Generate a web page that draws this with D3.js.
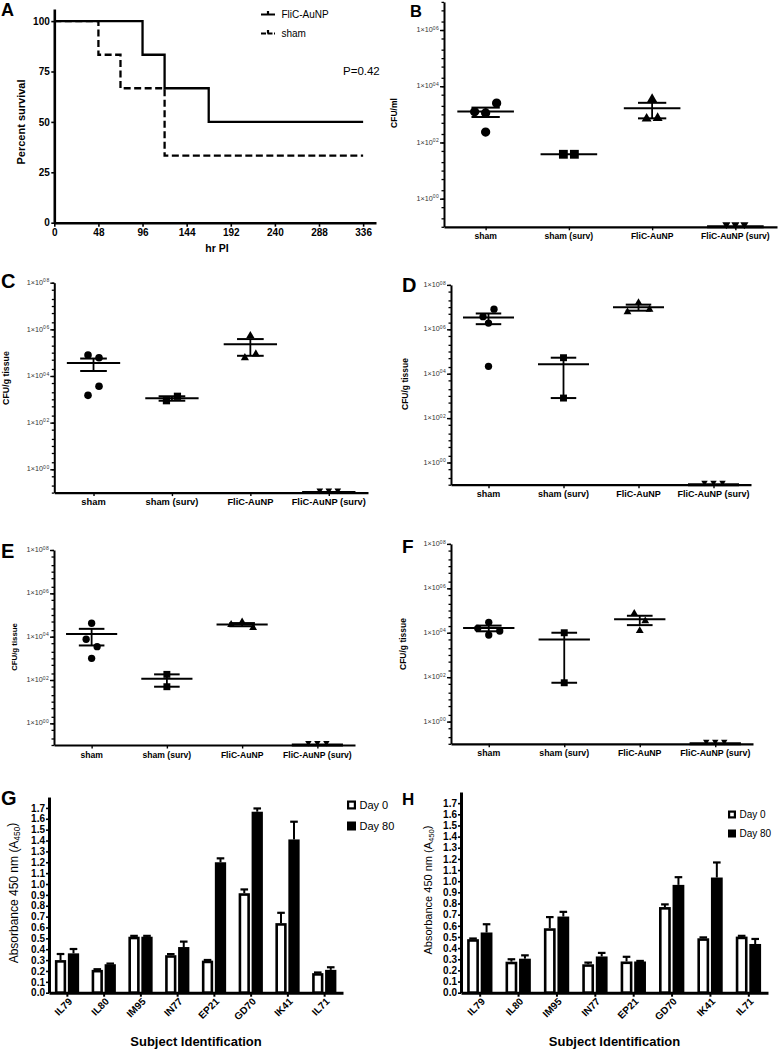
<!DOCTYPE html>
<html><head><meta charset="utf-8">
<script src="https://cdn.jsdelivr.net/npm/d3@7"></script>
<style>
body{margin:0;background:#fff}
svg{display:block}
text{font-family:"Liberation Sans",Arial,sans-serif;fill:#000}
</style>
</head><body>
<svg id="c" width="782" height="1050"></svg>
<script>
// ---------------- DATA ----------------
// Panel A: Kaplan-Meier survival
const flicTimes = [0, 96, 120, 168, 336];
const flicSurvival = [100, 83.3, 66.7, 50, 50];
const shamTimes = [0, 48, 72, 120, 336];
const shamSurvival = [100, 83.3, 66.7, 33.3, 33.3];
const survivalXTicks = [0, 48, 96, 144, 192, 240, 288, 336];
const survivalYTicks = [0, 25, 50, 75, 100];
const survivalSeries = ["FliC-AuNP", "sham"];
const pValueLabel = "P=0.42";

// Panels B-F: CFU per group (0 = below detection)
const cfuGroups = ["sham", "sham (surv)", "FliC-AuNP", "FliC-AuNP (surv)"];
const cfuB = [[1230, 1120, 2500, 234], [38, 38], [3500, 700, 740], [0, 0, 0]];
const cfuC = [[79400, 60300, 1480, 3630], [870, 1350], [537000, 60300, 87000], [0, 0, 0]];
const cfuD = [[3.7e6, 8.1e6, 1.9e6, 21400], [52500, 800], [6.0e6, 1.58e7, 7.9e6], [0, 0, 0]];
const cfuE = [[41700, 7600, 3470, 1000], [182, 49], [36000, 47000, 26000], [0, 0, 0]];
const cfuF = [[15800, 29500, 12000, 7900], [10000, 56], [74000, 34000, 12300], [0, 0, 0]];
const logLabelExps = [0, 2, 4, 6, 8];

// Panels G-H: absorbance
const subjects = ["IL79", "IL80", "IM95", "IN77", "EP21", "GD70", "IK41", "IL71"];
const dayLabels = ["Day 0", "Day 80"];
const gDay0 = [0.30, 0.21, 0.515, 0.345, 0.295, 0.915, 0.64, 0.18];
const gDay0Err = [0.056, 0.006, 0.008, 0.01, 0.006, 0.035, 0.095, 0.006];
const gDay80 = [0.362, 0.262, 0.515, 0.42, 1.20, 1.665, 1.41, 0.21];
const gDay80Err = [0.04, 0.006, 0.008, 0.05, 0.036, 0.03, 0.163, 0.024];
const hDay0 = [0.48, 0.278, 0.578, 0.255, 0.28, 0.768, 0.488, 0.503];
const hDay0Err = [0.006, 0.022, 0.10, 0.015, 0.042, 0.024, 0.008, 0.007];
const hDay80 = [0.54, 0.305, 0.683, 0.325, 0.28, 0.967, 1.033, 0.437];
const hDay80Err = [0.074, 0.03, 0.042, 0.032, 0.005, 0.069, 0.135, 0.045];
const absTicks = d3.range(18).map(i => i / 10);

// ---------------- DRAWING ----------------
const svg = d3.select("#c");
const FONT = '"Liberation Sans", Arial, sans-serif';

function cleanAxis(g, domainW, tickW) {
  g.attr("font-family", FONT).attr("font-size", null);
  g.select(".domain").attr("stroke", "#000").attr("stroke-width", domainW);
  g.selectAll(".tick line").attr("stroke", "#000").attr("stroke-width", tickW);
}

function panelLetter(txt, x, y, fam, size, weight) {
  svg.append("text").attr("x", x).attr("y", y).attr("font-family", fam)
    .attr("font-size", size).attr("font-weight", weight).text(txt);
}

// ---- Panel A ----
(function () {
  const x = d3.scaleLinear().domain([0, 350]).range([54.3, 376]);
  const y = d3.scaleLinear().domain([0, 106]).range([222.7, 9]);
  const line = d3.line().x(d => x(d[0])).y(d => y(d[1])).curve(d3.curveStepAfter);
  svg.append("path").datum(d3.zip(flicTimes, flicSurvival)).attr("d", line)
    .attr("fill", "none").attr("stroke", "#000").attr("stroke-width", 2.3);
  svg.append("path").datum(d3.zip(shamTimes, shamSurvival)).attr("d", line)
    .attr("fill", "none").attr("stroke", "#000").attr("stroke-width", 2.3)
    .attr("stroke-dasharray", "7,3.5");

  const gx = svg.append("g").attr("transform", "translate(0,222.7)")
    .call(d3.axisBottom(x).tickValues(survivalXTicks).tickSize(4).tickSizeOuter(0).tickPadding(2));
  cleanAxis(gx, 2.6, 1.6);
  gx.selectAll("text").attr("font-size", 10).attr("font-weight", "bold");
  const gy = svg.append("g").attr("transform", "translate(54.3,0)")
    .call(d3.axisLeft(y).tickValues(survivalYTicks).tickSize(3).tickSizeOuter(0).tickPadding(1.5));
  cleanAxis(gy, 2.6, 1.6);
  gy.selectAll("text").attr("font-size", 10).attr("font-weight", "bold");

  svg.append("text").attr("x", 217).attr("y", 252).attr("text-anchor", "middle")
    .attr("font-size", 10.5).attr("font-weight", "bold").text("hr PI");
  svg.append("text").attr("transform", "translate(24.5,122) rotate(-90)").attr("text-anchor", "middle")
    .attr("font-size", 11).attr("font-weight", "bold").text("Percent survival");

  // legend
  survivalSeries.forEach((s, i) => {
    const ly = 14.5 + i * 19;
    svg.append("line").attr("x1", 261).attr("x2", 275).attr("y1", ly).attr("y2", ly)
      .attr("stroke", "#000").attr("stroke-width", 2)
      .attr("stroke-dasharray", i === 1 ? "5,1.5" : null);
    svg.append("line").attr("x1", 268).attr("x2", 268).attr("y1", ly - 3.5).attr("y2", ly)
      .attr("stroke", "#000").attr("stroke-width", 2.2);
    svg.append("text").attr("x", 281.5).attr("y", ly + 3.5).attr("font-size", 10).text(s);
  });
  svg.append("text").attr("x", 343).attr("y", 74.5).attr("font-size", 11.5).text(pValueLabel);
})();

// ---- Log scatter panels B-F ----
const markerTypes = [d3.symbolCircle, d3.symbolSquare, d3.symbolTriangle, d3.symbolTriangle];

function logPanel(cfg, values) {
  const g = svg.append("g");
  const maxV = Math.pow(10, cfg.maxExp);
  const y = d3.scaleLog().domain([0.1, maxV]).range([cfg.bottom, cfg.top]);
  const x = d3.scalePoint().domain(cfuGroups).range([cfg.left, cfg.right]).padding(0.5);
  const step = x.step();
  const ypx = v => (v > 0.1 ? y(v) : cfg.bottom);

  // minor ticks (1,2,5 x 10^n)
  const minor = [];
  for (let e = -1; e < cfg.maxExp; e++) [1, 2, 5].forEach(k => minor.push(k * Math.pow(10, e)));
  minor.push(maxV);
  const gMinor = g.append("g").attr("transform", `translate(${cfg.left},0)`)
    .call(d3.axisLeft(y).tickValues(minor).tickSize(2.5).tickSizeOuter(0).tickFormat(""));
  cleanAxis(gMinor, 2, 1.3);
  const majors = logLabelExps.filter(e => e <= cfg.maxExp).map(e => Math.pow(10, e));
  const gMajor = g.append("g").attr("transform", `translate(${cfg.left},0)`)
    .call(d3.axisLeft(y).tickValues(majors).tickSize(4).tickSizeOuter(0).tickFormat(""));
  cleanAxis(gMajor, 2, 1.4);
  gMajor.select(".domain").remove();
  majors.forEach(v => {
    const exp = Math.round(Math.log10(v));
    const t = g.append("text").attr("x", cfg.left - 4.5).attr("y", y(v)).attr("dy", "0.3em")
      .attr("text-anchor", "end").attr("font-size", 7.2).style("fill", "#333");
    t.append("tspan").text("1×10");
    t.append("tspan").attr("dy", "-0.5em").attr("font-size", 5).attr("letter-spacing", 0.6).text("0" + exp);
  });

  const gx = g.append("g").attr("transform", `translate(0,${cfg.bottom})`)
    .call(d3.axisBottom(x).tickSize(3.5).tickSizeOuter(0).tickFormat(""));
  cleanAxis(gx, 2.2, 1.4);
  cfuGroups.forEach(c => {
    g.append("text").attr("x", x(c)).attr("y", cfg.bottom + 12.5).attr("text-anchor", "middle")
      .attr("font-size", cfg.catFont).attr("font-weight", "bold").text(c);
  });
  g.append("text").attr("transform", `translate(${cfg.labelX},${cfg.labelY}) rotate(-90)`)
    .attr("text-anchor", "middle").attr("font-size", cfg.labelFont).attr("font-weight", "bold").text(cfg.label);

  const spacing = 11;
  values.forEach((vals, gi) => {
    const cx = x(cfuGroups[gi]);
    // place points: group into rows of near-equal height and centre each row
    const pts = vals.map((v, i) => ({ v, i, py: v > 0 ? ypx(v) : cfg.bottom - 2.2 }));
    const sorted = pts.slice().sort((a, b) => a.py - b.py);
    const rows = [];
    sorted.forEach(p => {
      const last = rows[rows.length - 1];
      if (last && p.py - last[0].py < cfg.diam * 1.3) last.push(p); else rows.push([p]);
    });
    rows.forEach(r => {
      r.sort((a, b) => a.i - b.i);
      r.forEach((p, k) => { p.px = cx + (k - (r.length - 1) / 2) * (gi === 3 ? 9 : spacing); });
    });
    const type = markerTypes[gi];
    const size = gi === 0 ? Math.PI * Math.pow(cfg.diam / 2, 2)
      : gi === 1 ? Math.pow(cfg.diam * 0.95, 2)
      : gi === 2 ? cfg.diam * cfg.diam * 0.5 : cfg.diam * cfg.diam * 0.33;
    pts.forEach(p => {
      g.append("path").attr("d", d3.symbol().type(type).size(size)())
        .attr("transform", `translate(${p.px},${p.py})${gi === 3 ? " rotate(180)" : ""}`)
        .attr("fill", "#000");
    });
    // mean +/- SEM
    const mean = d3.mean(vals);
    const sem = vals.length > 1 ? d3.deviation(vals) / Math.sqrt(vals.length) : 0;
    const meanW = step * 0.68, capW = step * 0.34;
    const my = ypx(mean);
    const ln = (x1, y1, x2, y2, w) => g.append("line").attr("x1", x1).attr("y1", y1).attr("x2", x2).attr("y2", y2)
      .attr("stroke", "#000").attr("stroke-width", w);
    ln(cx - meanW / 2, my, cx + meanW / 2, my, mean > 0 ? 2 : 3);
    if (sem > 0) {
      const yu = ypx(mean + sem), yl = ypx(mean - sem);
      ln(cx, yu, cx, yl, 1.8);
      ln(cx - capW / 2, yu, cx + capW / 2, yu, 2);
      ln(cx - capW / 2, yl, cx + capW / 2, yl, 2);
    }
  });
}

logPanel({ left: 444, right: 777, top: 1.9, bottom: 226.8, maxExp: 7, diam: 9.3, label: "CFU/ml",
  labelX: 397, labelY: 113, labelFont: 8.5, catFont: 8.6 }, cfuB);
logPanel({ left: 54.3, right: 368, top: 282.7, bottom: 492.6, maxExp: 8, diam: 7.6, label: "CFU/g tissue",
  labelX: 9, labelY: 378, labelFont: 8.8, catFont: 9.3 }, cfuC);
logPanel({ left: 451, right: 751, top: 284.9, bottom: 484.7, maxExp: 8, diam: 7.3, label: "CFU/g tissue",
  labelX: 408, labelY: 384, labelFont: 8.5, catFont: 9 }, cfuD);
logPanel({ left: 54, right: 355, top: 550, bottom: 745, maxExp: 8, diam: 7.3, label: "CFU/g tissue",
  labelX: 17, labelY: 647, labelFont: 7.8, catFont: 8.6 }, cfuE);
logPanel({ left: 451, right: 753, top: 543.9, bottom: 743.8, maxExp: 8, diam: 7.3, label: "CFU/g tissue",
  labelX: 406, labelY: 644, labelFont: 8.5, catFont: 8.8 }, cfuF);

// ---- Bar panels G-H ----
function barPanel(cfg, d0, e0, d80, e80) {
  const g = svg.append("g");
  const x0 = d3.scaleBand().domain(subjects).range([cfg.left, cfg.right]);
  const bwG = x0.bandwidth();
  const x1 = d3.scaleBand().domain(dayLabels).range([bwG * 0.16, bwG * 0.82]).paddingInner(0.13);
  const y = d3.scaleLinear().domain([0, 1.8]).range([cfg.bottom, cfg.bottom - 18 * cfg.per01]);
  const bw = x1.bandwidth();
  const series = [[d0, e0, "Day 0"], [d80, e80, "Day 80"]];
  series.forEach(([vals, errs, key], si) => {
    vals.forEach((v, i) => {
      const bx = x0(subjects[i]) + x1(key);
      const cx = bx + bw / 2;
      // error bar (upward)
      g.append("line").attr("x1", cx).attr("x2", cx).attr("y1", y(v)).attr("y2", y(v + errs[i]))
        .attr("stroke", "#000").attr("stroke-width", 2);
      g.append("line").attr("x1", cx - 3.8).attr("x2", cx + 3.8).attr("y1", y(v + errs[i])).attr("y2", y(v + errs[i]))
        .attr("stroke", "#000").attr("stroke-width", 2.2);
      if (si === 0) {
        g.append("rect").attr("x", bx + 1.3).attr("width", bw - 2.6).attr("y", y(v) + 1.3)
          .attr("height", y(0) - y(v) - 1.3).attr("fill", "#fff").attr("stroke", "#000").attr("stroke-width", 2.6);
      } else {
        g.append("rect").attr("x", bx).attr("width", bw).attr("y", y(v))
          .attr("height", y(0) - y(v)).attr("fill", "#000");
      }
    });
  });
  const gy = g.append("g").attr("transform", `translate(${cfg.left},0)`)
    .call(d3.axisLeft(y).tickValues(absTicks).tickFormat(d3.format(".1f")).tickSize(3).tickSizeOuter(0).tickPadding(1));
  cleanAxis(gy, 3, 1.6);
  gy.selectAll("text").attr("font-size", 10).attr("font-weight", "bold");
  const gx = g.append("g").attr("transform", `translate(0,${cfg.bottom})`)
    .call(d3.axisBottom(x0).tickSize(4).tickSizeOuter(0).tickFormat(""));
  cleanAxis(gx, 3, 2);
  subjects.forEach(s => {
    g.append("text").attr("transform", `translate(${x0(s) + bwG / 2 + 3},${cfg.bottom + 7}) rotate(-45)`)
      .attr("text-anchor", "end").attr("dy", "0.35em").attr("font-size", 10).attr("font-weight", "bold").text(s);
  });
  g.append("text").attr("x", (cfg.left + cfg.right) / 2).attr("y", 1046).attr("text-anchor", "middle")
    .attr("font-size", 13).attr("font-weight", "bold").text("Subject Identification");
  const yl = g.append("text").attr("transform", `translate(${cfg.labelX},${cfg.labelY}) rotate(-90)`)
    .attr("text-anchor", "middle").attr("font-size", cfg.labelFont);
  yl.append("tspan").text("Absorbance 450 nm (A");
  yl.append("tspan").attr("font-size", cfg.labelFont * 0.7).attr("dy", "0.3em").text("450");
  yl.append("tspan").attr("dy", "-0.3em").text(")");
  // legend
  dayLabels.forEach((d, i) => {
    const ly = cfg.legY + i * cfg.legGap;
    if (i === 0) {
      g.append("rect").attr("x", cfg.legX + 1.1).attr("y", ly + 1.1).attr("width", cfg.legS - 2.2).attr("height", cfg.legS - 2.2)
        .attr("fill", "#fff").attr("stroke", "#000").attr("stroke-width", 2.2);
    } else {
      g.append("rect").attr("x", cfg.legX).attr("y", ly).attr("width", cfg.legS).attr("height", cfg.legS).attr("fill", "#000");
    }
    g.append("text").attr("x", cfg.legX + cfg.legS + 3.5).attr("y", ly + cfg.legS / 2).attr("dy", "0.36em")
      .attr("font-size", cfg.legFont).text(d);
  });
}

barPanel({ left: 49, right: 343, bottom: 992.7, per01: 10.87, labelX: 17.5, labelY: 893, labelFont: 12,
  legX: 347, legY: 800.5, legGap: 21, legS: 9, legFont: 11 }, gDay0, gDay0Err, gDay80, gDay80Err);
barPanel({ left: 461, right: 768, bottom: 992.7, per01: 11.15, labelX: 432, labelY: 890, labelFont: 11,
  legX: 728, legY: 810.5, legGap: 19, legS: 8, legFont: 10 }, hDay0, hDay0Err, hDay80, hDay80Err);

// ---- Panel letters ----
const LF = '"Open Sans", "Liberation Sans", sans-serif';
panelLetter("A", 1, 16, LF, 18, 600);
panelLetter("B", 410, 17, FONT, 16.5, "bold");
panelLetter("C", 1, 288, LF, 20, 600);
panelLetter("D", 402, 292, LF, 20, 600);
panelLetter("E", 1, 558, LF, 20, 600);
panelLetter("F", 402, 553, LF, 19, 600);
panelLetter("G", 1, 805, LF, 20, 600);
panelLetter("H", 402, 805, FONT, 17, "bold");
</script>
</body></html>
